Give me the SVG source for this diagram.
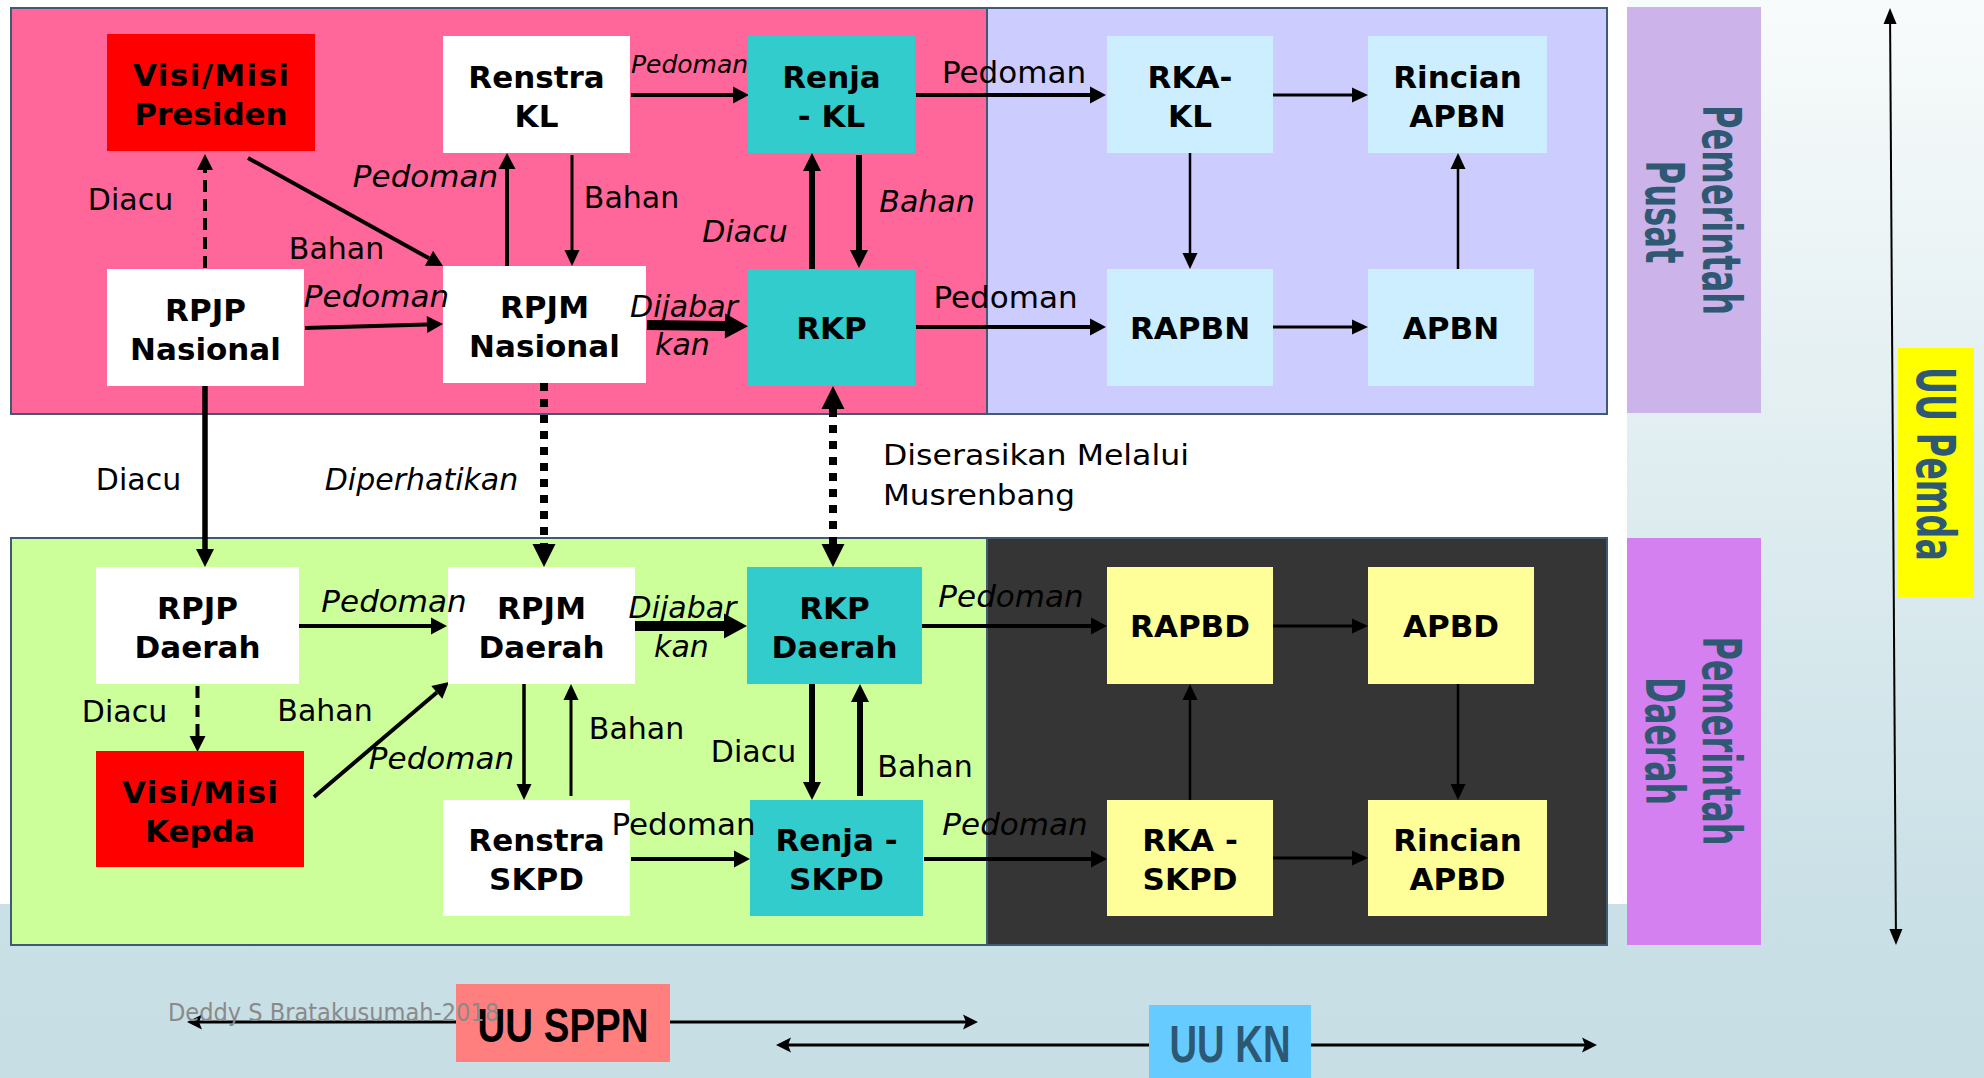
<svg xmlns="http://www.w3.org/2000/svg" width="1984" height="1078" viewBox="0 0 1984 1078">
<defs>
<linearGradient id="bg" x1="0" y1="0" x2="0" y2="1">
<stop offset="0" stop-color="#f8fbfb"/>
<stop offset="0.85" stop-color="#c9e0e6"/>
<stop offset="1" stop-color="#c6dee4"/>
</linearGradient>
<marker id="m4" markerUnits="userSpaceOnUse" markerWidth="16" markerHeight="17" refX="0" refY="8.5" orient="auto-start-reverse" overflow="visible"><path d="M0,0 L16,8.5 L0,17 z" fill="#000"/></marker>
<marker id="m3" markerUnits="userSpaceOnUse" markerWidth="16" markerHeight="15" refX="0" refY="7.5" orient="auto-start-reverse" overflow="visible"><path d="M0,0 L16,7.5 L0,15 z" fill="#000"/></marker>
<marker id="m6" markerUnits="userSpaceOnUse" markerWidth="18" markerHeight="18" refX="0" refY="9" orient="auto-start-reverse" overflow="visible"><path d="M0,0 L18,9 L0,18 z" fill="#000"/></marker>
<marker id="m10" markerUnits="userSpaceOnUse" markerWidth="23" markerHeight="25" refX="0" refY="12.5" orient="auto-start-reverse" overflow="visible"><path d="M0,0 L23,12.5 L0,25 z" fill="#000"/></marker>
<marker id="mdot" markerUnits="userSpaceOnUse" markerWidth="23" markerHeight="23" refX="0" refY="11.5" orient="auto-start-reverse" overflow="visible"><path d="M0,0 L23,11.5 L0,23 z" fill="#000"/></marker>
<marker id="mdash" markerUnits="userSpaceOnUse" markerWidth="16" markerHeight="16" refX="0" refY="8" orient="auto-start-reverse" overflow="visible"><path d="M0,0 L16,8 L0,16 z" fill="#000"/></marker>
<marker id="mv" markerUnits="userSpaceOnUse" markerWidth="16" markerHeight="13" refX="0" refY="6.5" orient="auto-start-reverse" overflow="visible"><path d="M0,0 L16,6.5 L0,13 z" fill="#000"/></marker>
<marker id="mst" markerUnits="userSpaceOnUse" markerWidth="15" markerHeight="15" refX="3" refY="7.5" orient="auto-start-reverse" overflow="visible"><path d="M0,0 L15,7.5 L0,15 L3,7.5 z" fill="#000"/></marker>
</defs>
<style>
.pn{stroke:#3f5b73;stroke-width:2}
.nb{font-family:"DejaVu Sans",Verdana,sans-serif;font-weight:bold;font-size:31px;text-anchor:middle;fill:#000}
.lb{font-family:"DejaVu Sans",Verdana,sans-serif;font-size:30px;text-anchor:middle;fill:#000}
.pd{font-size:31px}
.it{font-style:italic}
.rt{font-family:"DejaVu Sans",Verdana,sans-serif;font-weight:bold;font-size:53px;text-anchor:middle;fill:#2f5872}
.c{fill:none;stroke:#000}
.s2{stroke-width:2}
.s25{stroke-width:2.5}
.s3{stroke-width:3}
.s35{stroke-width:3.5}
.s4{stroke-width:4}
.s55{stroke-width:5.5}
.s6{stroke-width:6}
.s10{stroke-width:10}
.dash{stroke-width:4;stroke-dasharray:12 7}
.dot{stroke-width:8;stroke-dasharray:8 8}
.wh{fill:#ffffff}
.red{fill:#ff0000}
.tl{fill:#33cccc}
.lbx{fill:#cceeff}
.yl{fill:#ffff99}
</style>

<g id="background">
<rect x="0" y="0" width="1984" height="1078" fill="url(#bg)"/>
<rect x="0" y="0" width="1627" height="904" fill="#ffffff"/>
</g>

<g id="panels">
<rect id="panel-pusat-perencanaan" class="pn" x="11" y="8" width="976" height="406" fill="#ff6699"/>
<rect id="panel-pusat-anggaran" class="pn" x="987" y="8" width="620" height="406" fill="#ccccff"/>
<rect id="panel-daerah-perencanaan" class="pn" x="11" y="538" width="976" height="407" fill="#ccff99"/>
<rect id="panel-daerah-anggaran" class="pn" x="987" y="538" width="620" height="407" fill="#353535"/>
</g>

<g id="pemerintah-pusat">
<rect x="1627" y="7" width="134" height="406" fill="#ccb3ea"/>
<text class="rt" transform="translate(1703,210) rotate(90)" textLength="210" lengthAdjust="spacingAndGlyphs">Pemerintah</text>
<text class="rt" transform="translate(1646,212) rotate(90)" textLength="103" lengthAdjust="spacingAndGlyphs">Pusat</text>
</g>
<g id="pemerintah-daerah">
<rect x="1627" y="538" width="134" height="407" fill="#d580f0"/>
<text class="rt" transform="translate(1703,741) rotate(90)" textLength="209" lengthAdjust="spacingAndGlyphs">Pemerintah</text>
<text class="rt" transform="translate(1646,741) rotate(90)" textLength="128" lengthAdjust="spacingAndGlyphs">Daerah</text>
</g>
<g id="uu-pemda">
<rect x="1898" y="348" width="76" height="249" fill="#ffff00"/>
<text class="rt" transform="translate(1917,464) rotate(90)" textLength="194" lengthAdjust="spacingAndGlyphs">UU Pemda</text>
</g>

<g id="connectors">
<line class="c dash" x1="205" y1="268" x2="205" y2="170" marker-end="url(#mdash)"/>
<line class="c s4" x1="248" y1="158" x2="429" y2="258.3" marker-end="url(#m4)"/>
<line class="c s4" x1="305" y1="328" x2="427" y2="324.5" marker-end="url(#m4)"/>
<line class="c s4" x1="507" y1="268" x2="507" y2="169" marker-end="url(#m4)"/>
<line class="c s3" x1="572" y1="155" x2="572" y2="250" marker-end="url(#m3)"/>
<line class="c s4" x1="631" y1="95" x2="733" y2="95" marker-end="url(#m4)"/>
<line class="c s4" x1="916" y1="95" x2="1090" y2="95" marker-end="url(#m4)"/>
<line class="c s6" x1="812" y1="269" x2="812" y2="171" marker-end="url(#m6)"/>
<line class="c s6" x1="859" y1="155" x2="859" y2="250" marker-end="url(#m6)"/>
<line class="c s10" x1="647" y1="325" x2="725" y2="326" marker-end="url(#m10)"/>
<line class="c s4" x1="916" y1="327" x2="1090" y2="327" marker-end="url(#m4)"/>
<line class="c s3" x1="1273" y1="95" x2="1352" y2="95" marker-end="url(#m3)"/>
<line class="c s25" x1="1190" y1="153" x2="1190" y2="253" marker-end="url(#m3)"/>
<line class="c s25" x1="1458" y1="269" x2="1458" y2="169" marker-end="url(#m3)"/>
<line class="c s3" x1="1273" y1="327" x2="1352" y2="327" marker-end="url(#m3)"/>
<line class="c s55" x1="205" y1="386" x2="205" y2="549" marker-end="url(#m6)"/>
<line class="c dot" x1="544" y1="383" x2="544" y2="544" marker-end="url(#mdot)"/>
<line class="c dot" x1="833" y1="409" x2="833" y2="544" marker-start="url(#mdot)" marker-end="url(#mdot)"/>
<line class="c s4" x1="299" y1="626" x2="431" y2="626" marker-end="url(#m4)"/>
<line class="c dash" x1="197.5" y1="686" x2="197.5" y2="736" marker-end="url(#mdash)"/>
<line class="c s4" x1="314" y1="797" x2="436.8" y2="692.4" marker-end="url(#m4)"/>
<line class="c s35" x1="524" y1="684" x2="524" y2="784" marker-end="url(#m3)"/>
<line class="c s3" x1="571" y1="796" x2="571" y2="700" marker-end="url(#m3)"/>
<line class="c s10" x1="635" y1="626" x2="724" y2="626" marker-end="url(#m10)"/>
<line class="c s6" x1="812" y1="684" x2="812" y2="782" marker-end="url(#m6)"/>
<line class="c s6" x1="860" y1="796" x2="860" y2="702" marker-end="url(#m6)"/>
<line class="c s4" x1="631" y1="859" x2="734" y2="859" marker-end="url(#m4)"/>
<line class="c s4" x1="922" y1="626" x2="1091" y2="626" marker-end="url(#m4)"/>
<line class="c s4" x1="924" y1="859" x2="1091" y2="859" marker-end="url(#m4)"/>
<line class="c s3" x1="1273" y1="626" x2="1352" y2="626" marker-end="url(#m3)"/>
<line class="c s25" x1="1190" y1="800" x2="1190" y2="700" marker-end="url(#m3)"/>
<line class="c s25" x1="1458" y1="684" x2="1458" y2="784" marker-end="url(#m3)"/>
<line class="c s3" x1="1273" y1="858" x2="1352" y2="858" marker-end="url(#m3)"/>
<line class="c s2" x1="1890.1" y1="24" x2="1895.9" y2="929" marker-start="url(#mv)" marker-end="url(#mv)"/>
<line class="c s3" x1="456" y1="1022" x2="199" y2="1022" marker-end="url(#mst)"/>
<line class="c s3" x1="670" y1="1022" x2="966" y2="1022" marker-end="url(#mst)"/>
<line class="c s3" x1="1149" y1="1045" x2="788" y2="1045" marker-end="url(#mst)"/>
<line class="c s3" x1="1311" y1="1045" x2="1585" y2="1045" marker-end="url(#mst)"/>
</g>

<g id="visi-misi-presiden"><rect class="red" x="107" y="34" width="208" height="117"/><text class="nb" x="211" y="85.5" textLength="156">Visi/Misi</text><text class="nb" x="211" y="124.5">Presiden</text></g>
<g id="renstra-kl"><rect class="wh" x="443" y="36" width="187" height="117"/><text class="nb" x="536.5" y="87.5">Renstra</text><text class="nb" x="536.5" y="126.5">KL</text></g>
<g id="renja-kl"><rect class="tl" x="748" y="36" width="167" height="117"/><text class="nb" x="831.5" y="87.5">Renja</text><text class="nb" x="831.5" y="126.5">- KL</text></g>
<g id="rka-kl"><rect class="lbx" x="1107" y="36" width="166" height="117"/><text class="nb" x="1190" y="87.5">RKA-</text><text class="nb" x="1190" y="126.5">KL</text></g>
<g id="rincian-apbn"><rect class="lbx" x="1368" y="36" width="179" height="117"/><text class="nb" x="1457.5" y="87.5">Rincian</text><text class="nb" x="1457.5" y="126.5">APBN</text></g>
<g id="rpjp-nasional"><rect class="wh" x="107" y="269" width="197" height="117"/><text class="nb" x="205.5" y="320.5">RPJP</text><text class="nb" x="205.5" y="359.5">Nasional</text></g>
<g id="rpjm-nasional"><rect class="wh" x="443" y="266" width="203" height="117"/><text class="nb" x="544.5" y="317.5">RPJM</text><text class="nb" x="544.5" y="356.5">Nasional</text></g>
<g id="rkp"><rect class="tl" x="748" y="269" width="167" height="117"/><text class="nb" x="831.5" y="338.5">RKP</text></g>
<g id="rapbn"><rect class="lbx" x="1107" y="269" width="166" height="117"/><text class="nb" x="1190" y="338.5">RAPBN</text></g>
<g id="apbn"><rect class="lbx" x="1368" y="269" width="166" height="117"/><text class="nb" x="1451" y="338.5">APBN</text></g>
<g id="rpjp-daerah"><rect class="wh" x="96" y="567" width="203" height="117"/><text class="nb" x="197.5" y="618.5">RPJP</text><text class="nb" x="197.5" y="657.5">Daerah</text></g>
<g id="rpjm-daerah"><rect class="wh" x="448" y="567" width="187" height="117"/><text class="nb" x="541.5" y="618.5">RPJM</text><text class="nb" x="541.5" y="657.5">Daerah</text></g>
<g id="rkp-daerah"><rect class="tl" x="747" y="567" width="175" height="117"/><text class="nb" x="834.5" y="618.5">RKP</text><text class="nb" x="834.5" y="657.5">Daerah</text></g>
<g id="rapbd"><rect class="yl" x="1107" y="567" width="166" height="117"/><text class="nb" x="1190" y="637">RAPBD</text></g>
<g id="apbd"><rect class="yl" x="1368" y="567" width="166" height="117"/><text class="nb" x="1451" y="637">APBD</text></g>
<g id="visi-misi-kepda"><rect class="red" x="96" y="751" width="208" height="116"/><text class="nb" x="200" y="802.5" textLength="156">Visi/Misi</text><text class="nb" x="200" y="841.5">Kepda</text></g>
<g id="renstra-skpd"><rect class="wh" x="443" y="800" width="187" height="116"/><text class="nb" x="536.5" y="851">Renstra</text><text class="nb" x="536.5" y="890">SKPD</text></g>
<g id="renja-skpd"><rect class="tl" x="750" y="800" width="173" height="116"/><text class="nb" x="836.5" y="851">Renja -</text><text class="nb" x="836.5" y="890">SKPD</text></g>
<g id="rka-skpd"><rect class="yl" x="1107" y="800" width="166" height="116"/><text class="nb" x="1190" y="851">RKA -</text><text class="nb" x="1190" y="890">SKPD</text></g>
<g id="rincian-apbd"><rect class="yl" x="1368" y="800" width="179" height="116"/><text class="nb" x="1457.5" y="851">Rincian</text><text class="nb" x="1457.5" y="890">APBD</text></g>

<g id="connector-labels">
<text class="lb" x="130.5" y="210">Diacu</text>
<text class="lb" x="336.5" y="259">Bahan</text>
<text class="lb pd it" x="425.5" y="187">Pedoman</text>
<text class="lb pd it" x="376.5" y="307">Pedoman</text>
<text class="lb it" x="689.5" y="73" style="font-size:25px">Pedoman</text>
<text class="lb" x="631.5" y="208">Bahan</text>
<text class="lb it" x="745" y="242">Diacu</text>
<text class="lb it" x="927" y="212">Bahan</text>
<text class="lb it" x="684" y="317">Dijabar</text>
<text class="lb it" x="682.5" y="355">kan</text>
<text class="lb pd" x="1014" y="83">Pedoman</text>
<text class="lb pd" x="1005.5" y="308">Pedoman</text>
<text class="lb" x="138.5" y="490">Diacu</text>
<text class="lb it" x="421.5" y="490">Diperhatikan</text>
<text class="lb" x="883" y="465" style="text-anchor:start;font-size:29px" textLength="306" lengthAdjust="spacingAndGlyphs">Diserasikan Melalui</text>
<text class="lb" x="883" y="505" style="text-anchor:start;font-size:29px" textLength="192" lengthAdjust="spacingAndGlyphs">Musrenbang</text>
<text class="lb pd it" x="394" y="612">Pedoman</text>
<text class="lb it" x="682.5" y="618">Dijabar</text>
<text class="lb it" x="681.5" y="657">kan</text>
<text class="lb pd it" x="1011" y="607">Pedoman</text>
<text class="lb" x="124.5" y="722">Diacu</text>
<text class="lb" x="325" y="721">Bahan</text>
<text class="lb pd it" x="441.5" y="769">Pedoman</text>
<text class="lb" x="636.5" y="739">Bahan</text>
<text class="lb" x="753.5" y="762">Diacu</text>
<text class="lb" x="925" y="777">Bahan</text>
<text class="lb pd" x="683.5" y="835">Pedoman</text>
<text class="lb pd it" x="1015" y="835">Pedoman</text>
</g>

<g id="uu-sppn"><rect x="456" y="984" width="214" height="78" fill="#ff7f7f"/><text x="563" y="1042" font-family="'Liberation Sans',Arial,sans-serif" font-weight="bold" font-size="49" text-anchor="middle" fill="#000" textLength="171" lengthAdjust="spacingAndGlyphs">UU SPPN</text></g>
<g id="uu-kn"><rect x="1149" y="1005" width="162" height="73" fill="#66ccff"/><text x="1230" y="1062" font-family="'Liberation Sans',Arial,sans-serif" font-weight="bold" font-size="51" text-anchor="middle" fill="#2d5873" textLength="121" lengthAdjust="spacingAndGlyphs">UU KN</text></g>

<text id="credit" x="168" y="1021" font-family="'DejaVu Sans',sans-serif" font-size="24" fill="#8a8a8a" textLength="331" lengthAdjust="spacingAndGlyphs">Deddy S Bratakusumah-2018</text>
</svg>
